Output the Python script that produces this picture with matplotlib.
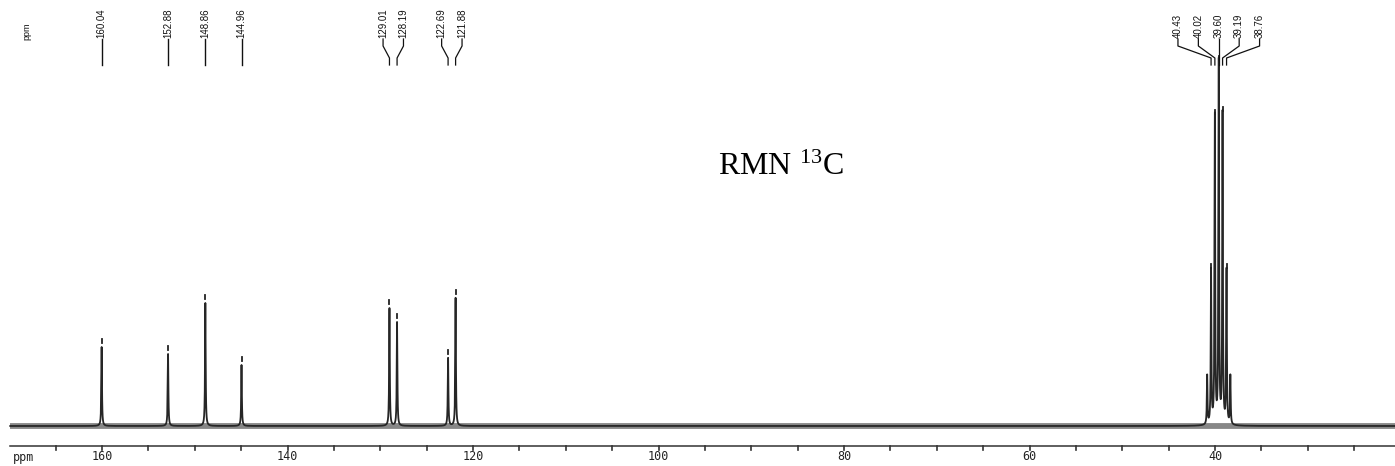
import numpy as np
import matplotlib
matplotlib.use("Agg")
import matplotlib.pyplot as plt

# 13C NMR peak list (ppm) and observed peak heights (arbitrary units)
shifts = [160.04, 152.88, 148.86, 144.96, 129.01, 128.19, 122.69, 121.88,
          40.43, 40.02, 39.60, 39.19, 38.76]
heights = [79, 72, 123, 61, 118, 104, 68, 128,
           154, 308, 362, 311, 154]
# outer lines of the DMSO-d6 septet (not annotated)
extra_shifts = [40.85, 38.35]
extra_heights = [49, 49]

major_ticks = [160, 140, 120, 100, 80, 60, 40]
minor_ticks = list(range(165, 24, -5))

plt.rcParams['mathtext.fontset'] = 'custom'
plt.rcParams['mathtext.rm'] = 'Liberation Serif'
plt.rcParams['mathtext.it'] = 'Liberation Serif:italic'

fig = plt.figure(figsize=(13.95, 4.66), dpi=100)
ax = fig.add_axes([0, 0, 1, 1])
ax.set_xlim(171.0, 20.6)
ax.set_ylim(-40, 426)
ax.axis('off')

# Lorentzian line shapes for the spectrum trace
x = np.arange(20.6, 169.9, 0.004)
gamma = 0.04
y = np.zeros_like(x)
for p, h in zip(shifts + extra_shifts, heights + extra_heights):
    y += h * gamma**2 / (gamma**2 + (x - p)**2)

# baseline band (noise floor) and trace
ax.plot([169.9, 20.6], [0, 0], color='#555555', lw=4.2, alpha=0.7,
        solid_capstyle='butt', zorder=1)
ax.plot(x, y, color='#262626', lw=1.3, zorder=2)

# peak-pick markers above each annotated peak
for p, h in zip(shifts, heights):
    ax.plot([p, p], [h + 4, h + 8], color='#222', lw=1.3)

# ppm axis
ax.plot([169.9, 20.6], [-20, -20], color='#333', lw=1.1)
for t in minor_ticks:
    ax.plot([t, t], [-20, -24], color='#333', lw=1.2)
for t in major_ticks:
    ax.text(t, -31, str(t), ha='center', va='center',
            family='DejaVu Sans Mono', fontsize=8.5, color='#222')
ax.text(168.5, -31, 'ppm', ha='center', va='center',
        family='DejaVu Sans Mono', fontsize=8.5, color='#222')

# peak labels with connectors, grouped when lines are close together
groups = []
for i, p in enumerate(shifts):
    if groups and abs(shifts[groups[-1][-1]] - p) < 1.0:
        groups[-1].append(i)
    else:
        groups.append([i])

label_font = ['Liberation Sans Narrow', 'Liberation Sans', 'DejaVu Sans']
spacing = 2.2
y_text, y_bend1, y_bend2, y_end = 387, 380, 368, 361
for g in groups:
    centre = np.mean([shifts[i] for i in g])
    n = len(g)
    for k, i in enumerate(g):
        p = shifts[i]
        lx = p if n == 1 else centre + spacing * ((n - 1) / 2 - k)
        if n == 1:
            ax.plot([p, p], [y_text, y_end], color='#111', lw=1.0)
        else:
            ax.plot([lx, lx, p, p], [y_text, y_bend1, y_bend2, y_end],
                    color='#111', lw=0.9)
        ax.text(lx, y_text + 1, f'{p:.2f}', rotation=90, ha='center',
                va='bottom', family=label_font, fontsize=7, color='#111')

ax.text(168.1, 395, 'ppm', rotation=90, ha='center', va='center',
        family=label_font, fontsize=6.5, color='#111')

ax.text(93.6, 251, r'RMN $^{\mathrm{13}}$C', ha='left', va='baseline',
        family='Liberation Serif', fontsize=23, color='#000')

fig.savefig('out.png', dpi=100)
